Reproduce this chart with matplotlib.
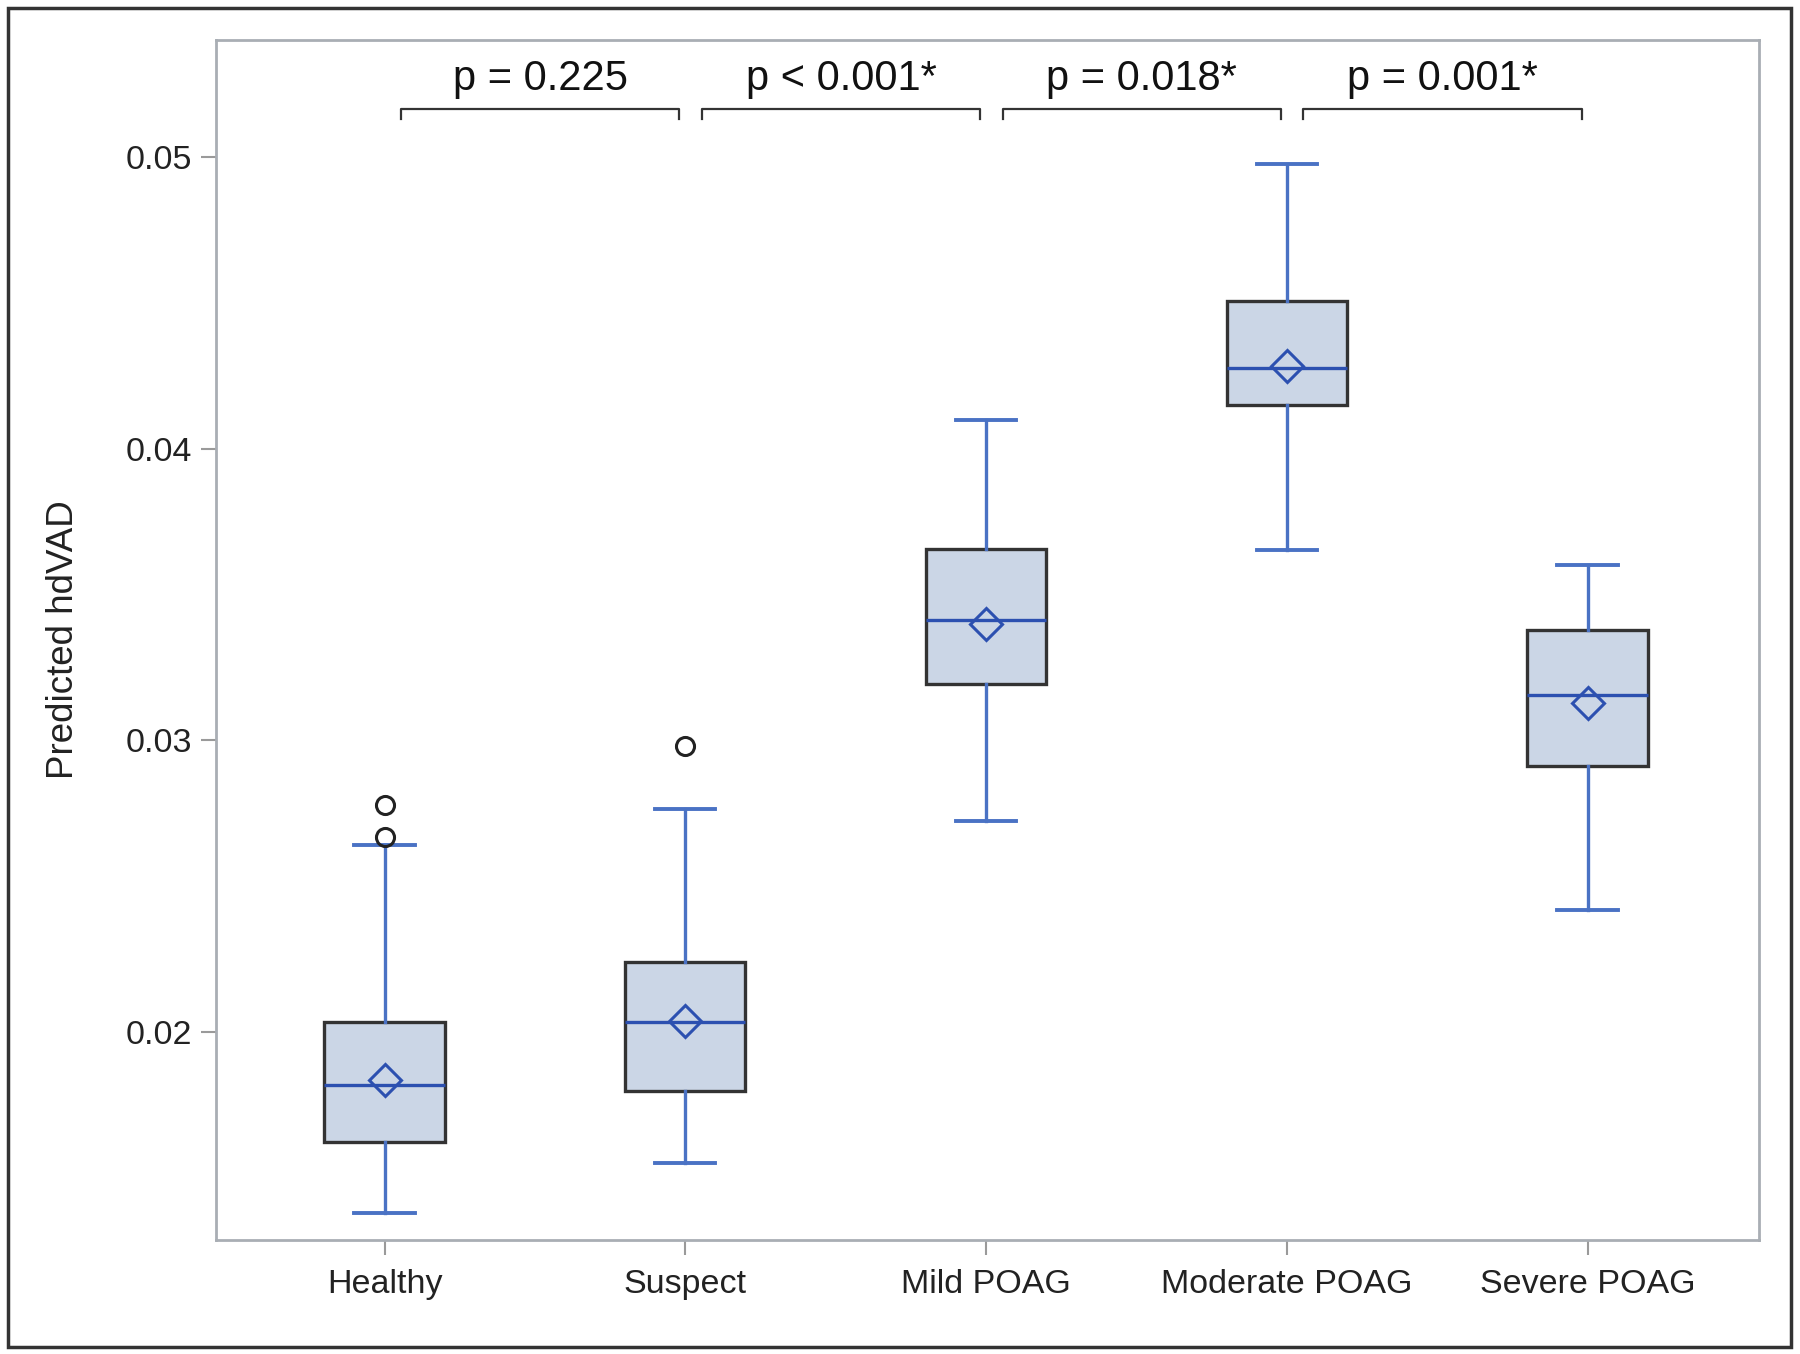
import matplotlib
matplotlib.use("Agg")
import matplotlib.pyplot as plt
from matplotlib.patches import Rectangle

plt.rcParams['font.family'] = ['Liberation Sans', 'DejaVu Sans']

categories = ["Healthy", "Suspect", "Mild POAG", "Moderate POAG", "Severe POAG"]
whislo = [0.01378, 0.01551, 0.02724, 0.03654, 0.02417]
q1 = [0.01622, 0.01799, 0.03193, 0.04150, 0.02913]
med = [0.01819, 0.02035, 0.03413, 0.04276, 0.03157]
mean = [0.01835, 0.02039, 0.03398, 0.04283, 0.03130]
q3 = [0.02035, 0.02240, 0.03657, 0.04508, 0.03378]
whishi = [0.02642, 0.02764, 0.04098, 0.04976, 0.03602]
fliers = [[0.02669, 0.02780], [0.02980], [], [], []]
p_labels = ["p = 0.225", "p < 0.001*", "p = 0.018*", "p = 0.001*"]
yticks = [0.02, 0.03, 0.04, 0.05]
ytick_labels = ["0.02", "0.03", "0.04", "0.05"]

fig = plt.figure(figsize=(18, 13.54), dpi=100)
ax = fig.add_axes([215.8/1800, 1 - 1239.8/1354, (1758.7-215.8)/1800, (1239.8-40.2)/1354])

stats = []
for i in range(len(categories)):
    stats.append(dict(label=categories[i], whislo=whislo[i], q1=q1[i], med=med[i],
                      q3=q3[i], whishi=whishi[i], mean=mean[i], fliers=fliers[i]))

blue = '#4a72c4'
dblue = '#2c50b0'
ax.bxp(stats, positions=range(len(categories)), widths=0.40, patch_artist=True,
       showmeans=True, capwidths=0.2,
       boxprops=dict(facecolor='#cbd6e6', edgecolor='#333333', linewidth=2.4),
       whiskerprops=dict(color=blue, linewidth=2.4),
       capprops=dict(color=blue, linewidth=2.8),
       medianprops=dict(color=dblue, linewidth=2.4),
       meanprops=dict(marker='D', markerfacecolor='none', markeredgecolor=dblue,
                      markersize=16, markeredgewidth=2.2),
       flierprops=dict(marker='o', markerfacecolor='none', markeredgecolor='#222222',
                       markersize=13, markeredgewidth=2.2))

ax.set_xlim(-0.561, 4.569)
ax.set_ylim(0.012874, 0.054016)
ax.set_yticks(yticks)
ax.set_yticklabels(ytick_labels)
ax.set_xticks(range(len(categories)))
ax.set_xticklabels(categories)
ax.tick_params(axis='both', colors='#9a9a9a', labelcolor='#222222', labelsize=24.5,
               length=11, width=1.5)
ax.tick_params(axis='x', pad=10)
ax.tick_params(axis='y', pad=6)
for s in ax.spines.values():
    s.set_color('#a9aeb4')
    s.set_linewidth(2)
ax.set_ylabel("Predicted hdVAD", fontsize=26.5, color='#222222', labelpad=32)

# significance brackets
bar_y = 0.05165
tick_y = 0.0513
text_y = 0.05268
for i, lab in enumerate(p_labels):
    x0 = i + 0.055
    x1 = i + 0.98
    ax.plot([x0, x0, x1, x1], [tick_y, bar_y, bar_y, tick_y], color='#333333',
            linewidth=1.6, clip_on=False)
    ax.text((x0 + x1) / 2, text_y, lab, ha='center', va='center', fontsize=30,
            color='#111111')

# outer frame
fig.patches.append(Rectangle((8/1800, 1 - 1347/1354), (1791-8)/1800, (1347-8)/1354,
                             transform=fig.transFigure, fill=False,
                             edgecolor='#333333', linewidth=2.5))

fig.savefig("out.png", dpi=100)
